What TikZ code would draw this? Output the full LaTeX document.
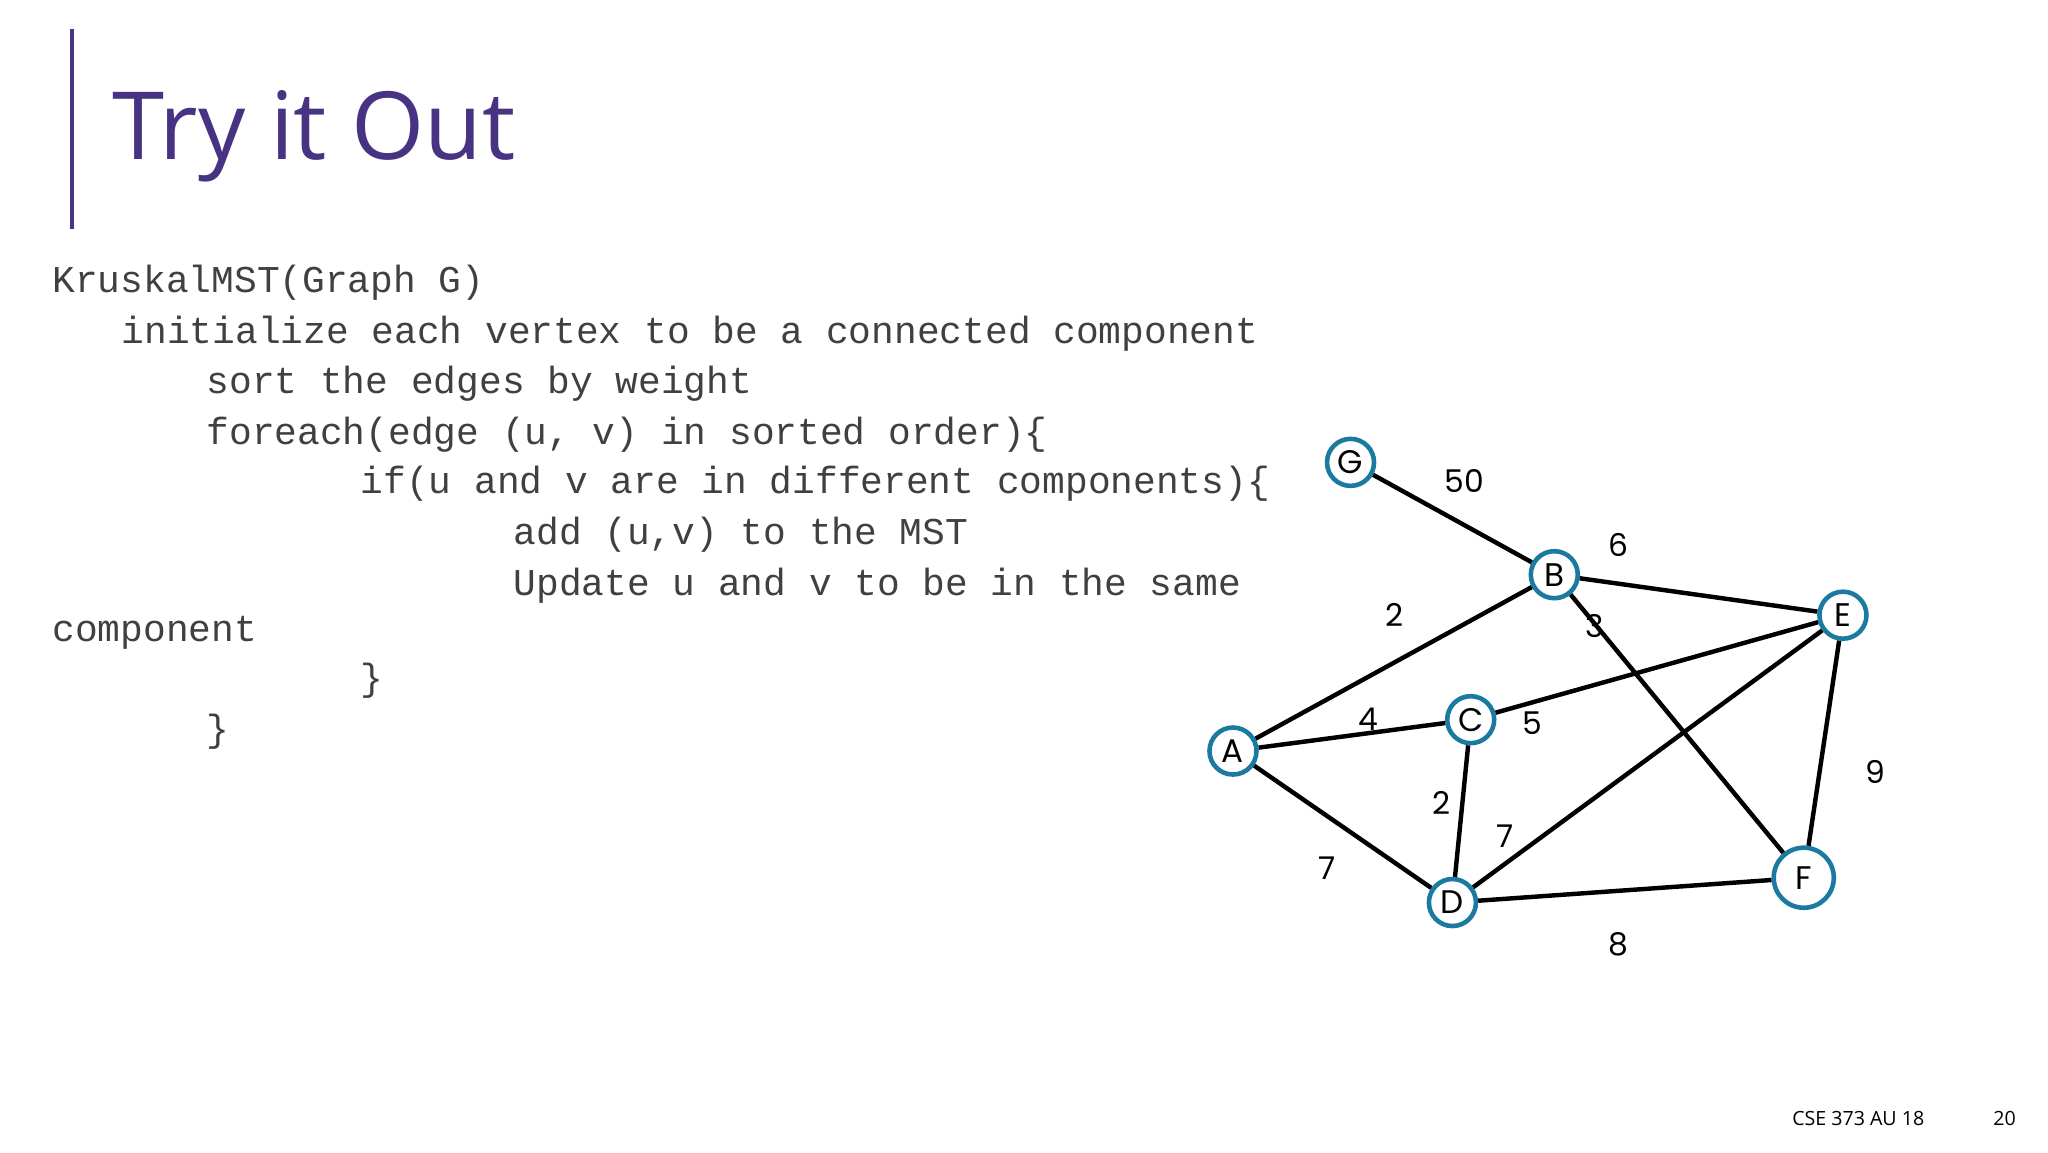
\documentclass[tikz,border=0pt]{standalone}
\usepackage{fontspec}
\setmainfont{Open Sans}
\setmonofont{Liberation Mono}
\newfontfamily\gothic{Poppins}
\definecolor{ttl}{RGB}{72,50,130}
\definecolor{nblue}{RGB}{26,122,160}
\begin{document}
\begin{tikzpicture}[x=1bp,y=-1bp,
  vtx/.style={circle,draw=nblue,line width=3.5bp,minimum size=36bp,inner sep=0pt,font=\gothic\fontsize{25bp}{28bp}\selectfont},
  edge/.style={line width=3.4bp,black},
  wl/.style={font=\gothic\fontsize{24bp}{27bp}\selectfont},
  code/.style={anchor=base west,inner sep=0pt,font=\ttfamily\fontsize{29bp}{32bp}\selectfont,text=black!75}]
\useasboundingbox (0,0) rectangle (1568,882);
\draw[ttl,line width=3bp] (55,22) -- (55,175);
\node[anchor=base west,inner sep=0pt,text=ttl,font=\fontsize{72bp}{80bp}\selectfont] (title) at (86,122) {Try it Out};
\node[code] (l1) at (40,224) {KruskalMST(Graph G)};
\node[code] (l2) at (93,263) {initialize each vertex to be a connected component};
\node[code] (l3) at (158,301) {sort the edges by weight};
\node[code] (l4) at (158,340) {foreach(edge (u, v) in sorted order)\{};
\node[code] (l5) at (276,378) {if(u and v are in different components)\{};
\node[code] (l6) at (393,417) {add (u,v) to the MST};
\node[code] (l7) at (393,456) {Update u and v to be in the same};
\node[code] (l8) at (40,491) {component};
\node[code] (l9) at (276,529) {\}};
\node[code] (l10) at (158,568) {\}};
\node[anchor=base west,inner sep=0pt,font=\fontsize{15bp}{18bp}\selectfont] (ft) at (1372,862) {CSE 373 AU 18};
\node[anchor=base west,inner sep=0pt,font=\fontsize{15bp}{18bp}\selectfont] (pg) at (1526,862) {20};
\node[vtx] (G) at (1034,354) {G};
\node[vtx] (B) at (1190,440) {B};
\node[vtx] (E) at (1411,471) {E};
\node[vtx] (C) at (1126,551) {C};
\node[vtx] (A) at (944,575) {A};
\node[vtx] (D) at (1112,691) {D};
\node[vtx,minimum size=46bp] (F) at (1381,672) {F};
\draw[edge] (G) -- (B);
\draw[edge] (B) -- (E);
\draw[edge] (B) -- (A);
\draw[edge] (B) -- (F);
\draw[edge] (E) -- (C);
\draw[edge] (E) -- (D);
\draw[edge] (E) -- (F);
\draw[edge] (A) -- (C);
\draw[edge] (A) -- (D);
\draw[edge] (C) -- (D);
\draw[edge] (D) -- (F);
\node[wl] (w1) at (1121,368) {50};
\node[wl] (w2) at (1239,417) {6};
\node[wl] (w3) at (1068,471) {2};
\node[wl] (w4) at (1221,479) {3};
\node[wl] (w5) at (1048,551) {4};
\node[wl] (w6) at (1173,554) {5};
\node[wl] (w7) at (1436,591) {9};
\node[wl] (w8) at (1104,615) {2};
\node[wl] (w9) at (1152,640) {7};
\node[wl] (w10) at (1016,665) {7};
\node[wl] (w11) at (1239,723) {8};
\end{tikzpicture}
\end{document}
